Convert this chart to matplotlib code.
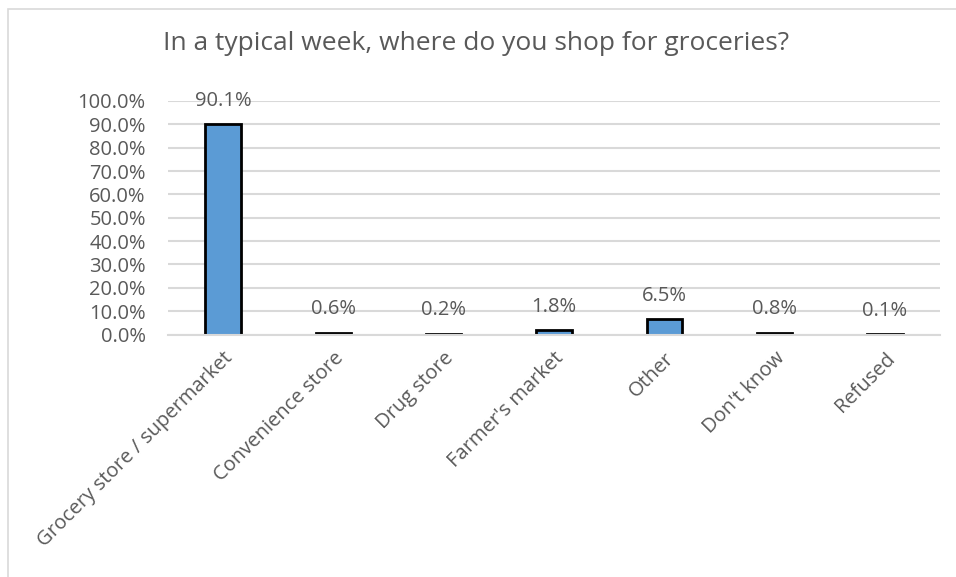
"""Grocery shopping survey bar chart."""
import matplotlib.pyplot as plt
import matplotlib.patches as mpatches
from matplotlib.ticker import FuncFormatter, MultipleLocator

categories = ["Grocery store / supermarket", "Convenience store", "Drug store",
              "Farmer's market", "Other", "Don't know", "Refused"]
shares = [0.901, 0.006, 0.002, 0.018, 0.065, 0.008, 0.001]
title = "In a typical week, where do you shop for groceries?"

text_color = "#595959"
grid_color = "#D9D9D9"
bar_color = "#5B9BD5"

plt.rcParams["font.family"] = ["Open Sans", "DejaVu Sans"]

fig = plt.figure(figsize=(9.56, 5.77), dpi=100)
# chart border like the spreadsheet frame
fig.patches.append(mpatches.Rectangle((8 / 956, -0.05), 1.1, 1.05 - 9 / 577,
                                      transform=fig.transFigure, fill=False,
                                      edgecolor="#D9D9D9", linewidth=1.2))

ax = fig.add_axes([168 / 956, 1 - 334.5 / 577, (940 - 168) / 956, 233.5 / 577])
x = range(len(categories))
bars = ax.bar(x, shares, width=0.32, color=bar_color, edgecolor="black",
              linewidth=2, zorder=3)

for rect, val in zip(bars, shares):
    ax.annotate(f"{val * 100:.1f}%", (rect.get_x() + rect.get_width() / 2, val),
                xytext=(0, 17), textcoords="offset points", ha="center",
                va="center", fontsize=14.5, color=text_color)

ax.set_xlim(-0.5, len(categories) - 0.5)
ax.set_ylim(0, 1.0)
ax.yaxis.set_major_locator(MultipleLocator(0.1))
ax.yaxis.set_major_formatter(FuncFormatter(lambda v, _: f"{v * 100:.1f}%"))
ax.grid(axis="y", color=grid_color, linewidth=1.5, zorder=0)
ax.set_axisbelow(True)
for side in ["top", "right", "left"]:
    ax.spines[side].set_visible(False)
ax.spines["bottom"].set_color(grid_color)
ax.spines["bottom"].set_linewidth(1.5)
ax.spines["bottom"].set_zorder(4)
ax.tick_params(axis="both", length=0, labelsize=14.5, labelcolor=text_color)
ax.tick_params(axis="y", pad=16)
ax.set_xticks(list(x))
ax.set_xticklabels(categories, rotation=45, ha="right", rotation_mode="anchor")
ax.tick_params(axis="x", pad=10)

fig.text(476 / 956, 1 - 43 / 577, title, ha="center", va="center",
         fontsize=19, color=text_color)

fig.savefig("out.png", dpi=100)
